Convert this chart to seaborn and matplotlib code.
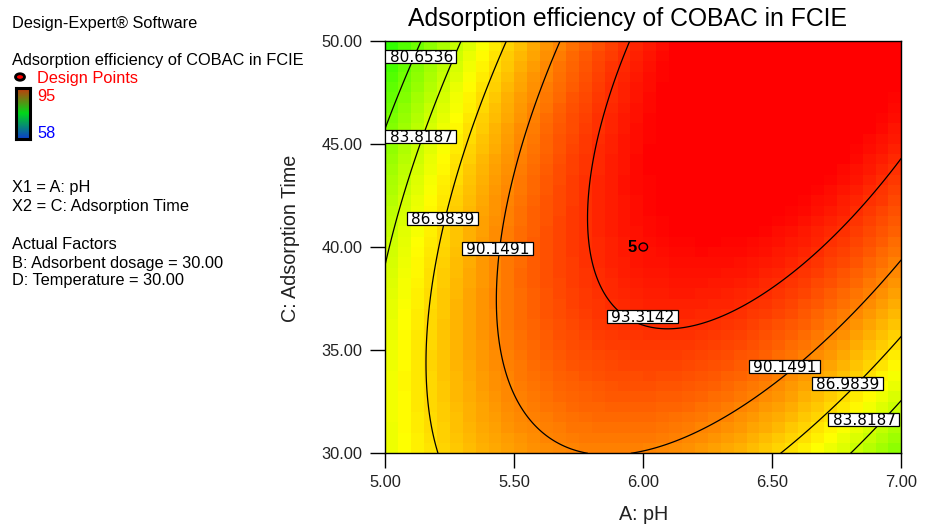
import numpy as np
import pandas as pd
import seaborn as sns
import matplotlib
matplotlib.use("Agg")
import matplotlib.pyplot as plt
from matplotlib.colors import LinearSegmentedColormap
from matplotlib.patches import Rectangle, Ellipse

# ---------------- data ----------------
# quadratic response-surface model in coded units (A = pH-6, C = (time-40)/10)
model_terms = ["Intercept", "A", "C", "A^2", "C^2", "AC"]
model_coefs = [94.3719, 3.5381, 1.8649, -7.2964, -2.4341, 5.4615]
contour_levels = [80.6536, 83.8187, 86.9839, 90.1491, 93.3142]
ph_ticks = [5.00, 5.50, 6.00, 6.50, 7.00]
time_ticks = [30.00, 35.00, 40.00, 45.00, 50.00]
design_ph = [6.00]
design_time = [40.00]
design_count = [5]
color_low, color_high = 58, 95
title = "Adsorption efficiency of COBAC in FCIE"
x_label = "A: pH"
y_label = "C: Adsorption Time"
side_texts = ["Design-Expert\u00ae Software",
              "Adsorption efficiency of COBAC in FCIE",
              "Design Points",
              "X1 = A: pH", "X2 = C: Adsorption Time",
              "Actual Factors", "B: Adsorbent dosage = 30.00",
              "D: Temperature = 30.00"]

# ---------------- style / layout ----------------
plt.rcParams['font.family'] = ['Liberation Sans', 'DejaVu Sans']
W, H = 933, 529
fig = plt.figure(figsize=(W/100, H/100), dpi=100)
X0, X1, Y0, Y1 = 385.3, 901.3, 40.7, 453.3   # axes pixel box
ax = fig.add_axes([X0/W, 1-Y1/H, (X1-X0)/W, (Y1-Y0)/H])

n = 40
ph_min, ph_max = ph_ticks[0], ph_ticks[-1]
t_min, t_max = time_ticks[0], time_ticks[-1]

def model(ph, t):
    a = ph - 6.0
    c = (t - 40.0) / 10.0
    b = model_coefs
    return b[0] + b[1]*a + b[2]*c + b[3]*a**2 + b[4]*c**2 + b[5]*a*c

def to_ix(ph):
    return (np.asarray(ph) - ph_min) / (ph_max - ph_min) * n

def to_iy(t):
    return (t_max - np.asarray(t)) / (t_max - t_min) * n

ph_c = ph_min + (np.arange(n) + 0.5) * (ph_max - ph_min) / n
t_c = t_max - (np.arange(n) + 0.5) * (t_max - t_min) / n
PC, TC = np.meshgrid(ph_c, t_c)
df = pd.DataFrame(model(PC, TC), index=np.round(t_c, 3), columns=np.round(ph_c, 3))

cmap = LinearSegmentedColormap.from_list(
    'de', [(0, (0, 0, 1)), (0.25, (0, 1, 1)), (0.5, (0, 1, 0)),
           (0.75, (1, 1, 0)), (1, (1, 0, 0))])
sns.heatmap(df, cmap=cmap, vmin=color_low, vmax=color_high, cbar=False, ax=ax,
            xticklabels=False, yticklabels=False)

fp = np.linspace(ph_min, ph_max, 400)
ft = np.linspace(t_min, t_max, 400)
FP, FT = np.meshgrid(fp, ft)
ax.contour(to_ix(FP), to_iy(FT), model(FP, FT), levels=contour_levels,
           colors='black', linewidths=0.9, zorder=3)
ax.set_xlim(0, n)
ax.set_ylim(n, 0)

# contour labels (layout positions: pH, time, level index)
label_spots = [(5.138, 49.23, 0), (5.138, 45.38, 1), (5.220, 41.39, 2),
               (5.433, 39.91, 3), (5.995, 36.62, 4), (6.546, 34.20, 3),
               (6.791, 33.39, 2), (6.855, 31.65, 1)]
px_x = (X1 - X0) / n
px_y = (Y1 - Y0) / n
bw, bh = 71 / px_x, 13 / px_y
for ph, t, li in label_spots:
    cx, cy = to_ix(ph), to_iy(t)
    ax.add_patch(Rectangle((cx - bw/2, cy - bh/2), bw, bh, facecolor='white',
                           edgecolor='black', linewidth=0.9, zorder=4, clip_on=True))
    ax.text(cx + 0.05, cy + 0.1, f"{contour_levels[li]:.4f}", ha='center', va='center',
            fontsize=11.1, family='DejaVu Sans', zorder=5, clip_on=True)

# design point
for ph, t, cnt in zip(design_ph, design_time, design_count):
    ax.add_patch(Ellipse((to_ix(ph), to_iy(t)), 8.5/px_x, 8/px_y, facecolor='red',
                         edgecolor='black', linewidth=1.0, zorder=6))
    ax.text(to_ix(ph) - 11.5/px_x, to_iy(t), str(cnt), ha='center', va='center',
            fontsize=12, fontweight='bold', zorder=6)

for s in ax.spines.values():
    s.set_visible(True)
    s.set_color('black')
    s.set_linewidth(1.0)
ax.set_xticks(to_ix(ph_ticks))
ax.set_xticklabels([f"{v:.2f}" for v in ph_ticks])
ax.set_yticks(to_iy(time_ticks))
ax.set_yticklabels([f"{v:.2f}" for v in time_ticks], rotation=0)
ax.tick_params(axis='both', direction='out', length=11, width=1.0, color='black',
               labelsize=11.8, labelcolor='#222222')
ax.tick_params(axis='y', pad=5.5)
ax.tick_params(axis='x', pad=4.5)

fig.text(628/W, 1-19/H, title, ha='center', va='center', fontsize=17.8)
fig.text(644/W, 1-515/H, x_label, ha='center', va='center', fontsize=14.2, color='#222222')
fig.text(290/W, 1-238/H, y_label, ha='center', va='center', rotation=90,
         fontsize=14.2, color='#222222')

# left side legend
fs = 11.8
cap = 0.358 * fs * 100 / 72
def side(x, yc, s, color='black'):
    fig.text(x/W, 1-(yc+cap)/H, s, ha='left', va='baseline', fontsize=fs, color=color)

side(11.7, 21.7, side_texts[0])
side(11.7, 59.3, side_texts[1])
side(37.3, 76.7, side_texts[2], color='red')
side(37.0, 95.0, str(color_high), color='red')
side(37.0, 131.7, str(color_low), color='blue')
side(11.7, 186.0, side_texts[3])
side(11.7, 205.0, side_texts[4])
side(11.7, 243.3, side_texts[5])
side(11.7, 261.7, side_texts[6])
side(11.7, 279.3, side_texts[7])

fig.add_artist(Ellipse((20/W, 1-77/H), 9/W, 6.5/H, transform=fig.transFigure,
                       facecolor='red', edgecolor='black', linewidth=2.0))
cax = fig.add_axes([16.3/W, 1-139/H, 13.4/W, 51/H])
bar_cmap = LinearSegmentedColormap.from_list(
    'bar', [(0, (0.05, 0.25, 0.8)), (0.5, (0.0, 0.85, 0.1)), (1, (0.8, 0.2, 0.05))])
cax.imshow(np.linspace(1, 0, 64).reshape(-1, 1), aspect='auto', cmap=bar_cmap,
           extent=(0, 1, 0, 1))
cax.set_xticks([]); cax.set_yticks([])
for s in cax.spines.values():
    s.set_linewidth(2.2)
    s.set_color('black')

fig.savefig('out.png')
